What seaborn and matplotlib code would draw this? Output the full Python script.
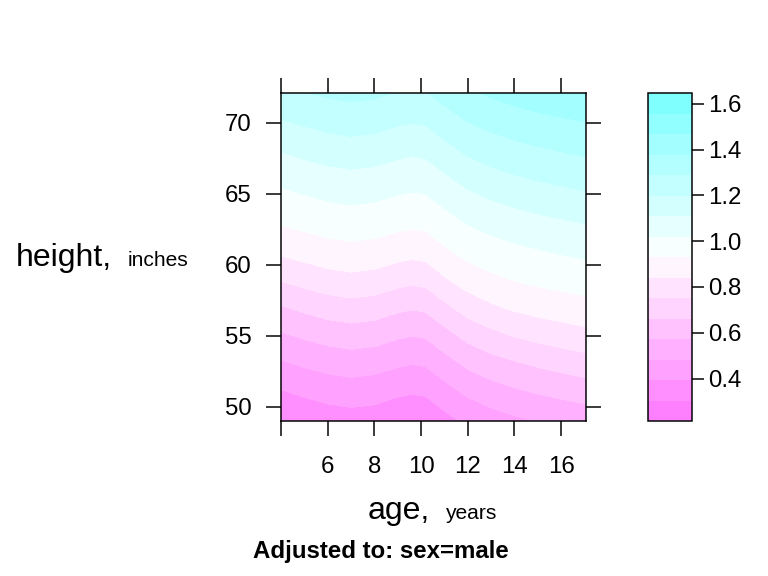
import numpy as np
import matplotlib
matplotlib.use("Agg")
import matplotlib.pyplot as plt
from matplotlib.colors import ListedColormap, BoundaryNorm, hsv_to_rgb
import seaborn as sns

# ---- data ----
ages = [4, 5, 6, 7, 8, 9, 9.6, 10.2, 11, 12, 13, 14, 15, 16, 17.07]
heights = [49, 51, 53, 55, 57, 59, 61, 63, 65, 67, 69, 71, 72.1]
# predicted values, one row per height, one column per age
z_h49 = [0.310, 0.329, 0.346, 0.355, 0.348, 0.329, 0.321, 0.327, 0.364, 0.411, 0.442, 0.466, 0.486, 0.502, 0.517]
z_h51 = [0.385, 0.406, 0.425, 0.436, 0.428, 0.406, 0.398, 0.404, 0.447, 0.497, 0.531, 0.556, 0.577, 0.593, 0.610]
z_h53 = [0.470, 0.493, 0.513, 0.524, 0.515, 0.493, 0.484, 0.490, 0.535, 0.589, 0.624, 0.650, 0.673, 0.692, 0.710]
z_h55 = [0.560, 0.584, 0.605, 0.617, 0.608, 0.584, 0.574, 0.581, 0.629, 0.687, 0.726, 0.755, 0.778, 0.795, 0.813]
z_h57 = [0.655, 0.681, 0.705, 0.718, 0.708, 0.681, 0.671, 0.679, 0.731, 0.790, 0.828, 0.855, 0.874, 0.888, 0.902]
z_h59 = [0.760, 0.785, 0.808, 0.820, 0.810, 0.785, 0.775, 0.783, 0.833, 0.884, 0.914, 0.936, 0.951, 0.963, 0.974]
z_h61 = [0.860, 0.880, 0.898, 0.908, 0.900, 0.880, 0.872, 0.878, 0.918, 0.960, 0.984, 1.002, 1.017, 1.030, 1.042]
z_h63 = [0.940, 0.956, 0.971, 0.979, 0.973, 0.956, 0.950, 0.955, 0.987, 1.026, 1.052, 1.072, 1.088, 1.101, 1.114]
z_h65 = [1.005, 1.023, 1.038, 1.047, 1.040, 1.023, 1.016, 1.021, 1.056, 1.098, 1.126, 1.146, 1.164, 1.178, 1.192]
z_h67 = [1.075, 1.094, 1.111, 1.120, 1.113, 1.094, 1.086, 1.092, 1.129, 1.174, 1.204, 1.226, 1.242, 1.255, 1.267]
z_h69 = [1.150, 1.170, 1.188, 1.198, 1.190, 1.170, 1.162, 1.168, 1.208, 1.251, 1.277, 1.297, 1.313, 1.326, 1.339]
z_h71 = [1.230, 1.248, 1.263, 1.272, 1.265, 1.248, 1.241, 1.246, 1.281, 1.323, 1.351, 1.371, 1.388, 1.401, 1.414]
z_h72 = [1.269, 1.286, 1.302, 1.311, 1.304, 1.286, 1.279, 1.284, 1.321, 1.364, 1.392, 1.413, 1.429, 1.443, 1.456]

x_ticks = [4, 6, 8, 10, 12, 14, 16]
x_tick_labels = ["", "6", "8", "10", "12", "14", "16"]
y_ticks = [50, 55, 60, 65, 70]
y_tick_labels = ["50", "55", "60", "65", "70"]
cbar_ticks = [0.4, 0.6, 0.8, 1.0, 1.2, 1.4, 1.6]
cbar_tick_labels = ["0.4", "0.6", "0.8", "1.0", "1.2", "1.4", "1.6"]
z_low, z_high = 0.2145, 1.6475   # colour key range
n_cuts = 15                       # lattice default -> 16 regions

x_label, x_units = "age,", "years"
y_label, y_units = "height,", "inches"
subtitle = "Adjusted to: sex=male"

# ---- styling ----
sns.set_style("ticks")
plt.rcParams["font.family"] = ["Liberation Sans", "DejaVu Sans"]
plt.rcParams["text.color"] = "black"
plt.rcParams["axes.labelcolor"] = "black"
plt.rcParams["xtick.color"] = "black"
plt.rcParams["ytick.color"] = "black"
plt.rcParams["xtick.minor.visible"] = False
plt.rcParams["ytick.minor.visible"] = False

z = np.array([z_h49, z_h51, z_h53, z_h55, z_h57, z_h59, z_h61, z_h63,
              z_h65, z_h67, z_h69, z_h71, z_h72])

# lattice default regions palette (reversed cm.colors(100))
half = 50
mag_s = np.linspace(0.5, 0.5 / half, half)
cyan_s = np.linspace(0.5 / half, 0.5, half)
regions = [hsv_to_rgb((10 / 12, s, 1.0)) for s in mag_s] + \
          [hsv_to_rgb((0.5, s, 1.0)) for s in cyan_s]
n_regions = n_cuts + 1
idx = [int(np.floor(1 + k * 99 / (n_regions - 1))) - 1 for k in range(n_regions)]
band_colors = [regions[i] for i in idx]
cmap = ListedColormap(band_colors)
levels = np.linspace(z_low, z_high, n_regions + 1)
norm = BoundaryNorm(levels, n_regions)

W, H = 768, 576
fig = plt.figure(figsize=(W / 72, H / 72), dpi=72)
fig.patch.set_facecolor("white")

ax = fig.add_axes([281 / W, 1 - 421 / H, 305 / W, 328 / H])
cs = ax.contourf(ages, heights, z, levels=levels, cmap=cmap, norm=norm)
ax.set_xlim(4, 17.07)
ax.set_ylim(49.0, 72.1)
ax.set_xticks(x_ticks)
ax.set_xticklabels(x_tick_labels)
ax.set_yticks(y_ticks)
ax.set_yticklabels(y_tick_labels)
ax.tick_params(direction="out", length=15, width=1.5, top=True, right=True,
               labeltop=False, labelright=False, labelsize=24, colors="black")
ax.tick_params(axis="x", pad=20)
ax.tick_params(axis="y", pad=14)
for sp in ax.spines.values():
    sp.set_linewidth(1.5)
    sp.set_color("black")

cax = fig.add_axes([648 / W, 1 - 421 / H, 44 / W, 328 / H])
cb = fig.colorbar(cs, cax=cax, ticks=cbar_ticks)
cb.set_ticklabels(cbar_tick_labels)
cb.minorticks_off()
cb.outline.set_linewidth(1.5)
cb.outline.set_edgecolor("black")
cax.tick_params(which="minor", length=0)
cax.tick_params(direction="out", length=12, width=1.5, labelsize=24, pad=4,
                colors="black")

fig.text(16 / W, 1 - 266 / H, y_label, fontsize=32, ha="left", va="baseline", color="black")
fig.text(128 / W, 1 - 266 / H, y_units, fontsize=21, ha="left", va="baseline", color="black")
fig.text(368 / W, 1 - 519 / H, x_label, fontsize=32, ha="left", va="baseline", color="black")
fig.text(446 / W, 1 - 519 / H, x_units, fontsize=21, ha="left", va="baseline", color="black")
fig.text(381 / W, 1 - 558 / H, subtitle, fontsize=24, fontweight="bold",
         ha="center", va="baseline", color="black")

fig.savefig("out.png", dpi=72, facecolor="white")
